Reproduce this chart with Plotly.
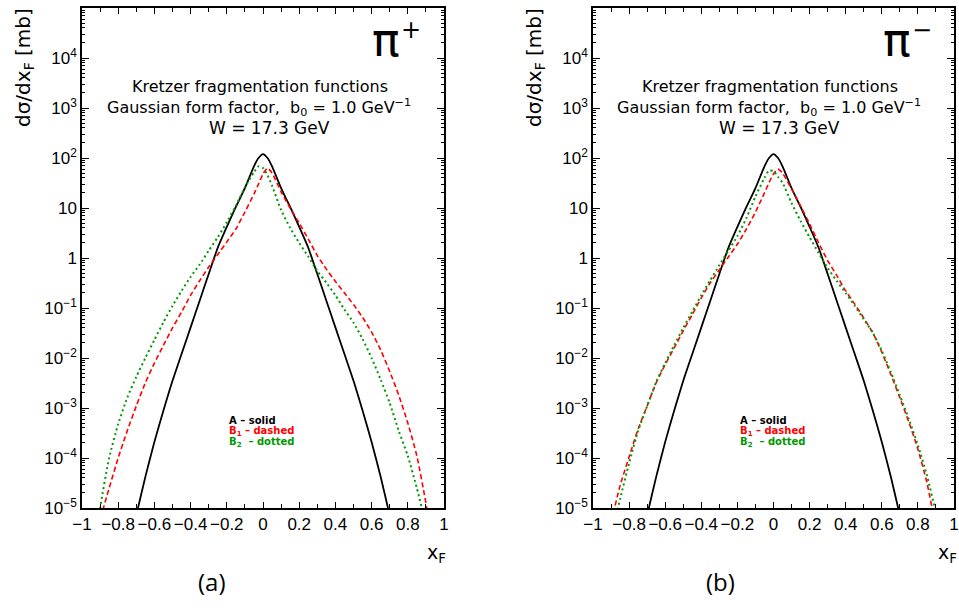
import plotly.graph_objects as go

# ---------------- data ----------------
xF = [-0.95, -0.9, -0.85, -0.8, -0.75, -0.7, -0.65, -0.6, -0.55, -0.5,
      -0.45, -0.4, -0.35, -0.3, -0.25, -0.2, -0.15, -0.1, -0.05, -0.025,
      0.0, 0.025, 0.05, 0.1, 0.15, 0.2, 0.25, 0.3, 0.35, 0.4,
      0.45, 0.5, 0.55, 0.6, 0.65, 0.7, 0.75, 0.8, 0.85, 0.9, 0.95]

# A - solid (same in both panels)
A_solid = [None, None, None, None, 1.0e-6, 7.1e-6, 4.2e-5, 2.1e-4, 8.9e-4, 3.5e-3,
           1.2e-2, 4.1e-2, 0.14, 0.48, 1.6, 4.2, 10.5, 25, 68, 100,
           120, 100, 68, 25, 10.5, 4.2, 1.6, 0.48, 0.14, 4.1e-2,
           1.2e-2, 3.5e-3, 8.9e-4, 2.1e-4, 4.2e-5, 7.1e-6, 1.0e-6, None, None, None, None]

# pi+ panel (a)
B1_pip = [5.0e-7, 5.6e-6, 2.5e-5, 1.0e-4, 3.5e-4, 1.1e-3, 3.2e-3, 7.9e-3, 1.8e-2, 4.0e-2,
          8.3e-2, 0.18, 0.35, 0.66, 1.17, 2.1, 3.8, 8.3, 19, 30,
          48, 63, 50, 21, 10, 5.0, 2.4, 1.12, 0.6, 0.34,
          0.2, 0.117, 6.5e-2, 3.3e-2, 1.45e-2, 5.4e-3, 1.8e-3, 5.0e-4, 1.1e-4, 1.26e-5, 1.0e-6]
B2_pip = [5.0e-7, 1.0e-5, 1.0e-4, 4.8e-4, 1.6e-3, 4.2e-3, 1.0e-2, 2.3e-2, 5.2e-2, 0.11,
          0.22, 0.42, 0.74, 1.4, 2.6, 5.2, 11, 26, 52, 68,
          63, 45, 28, 9.1, 4.0, 2.0, 1.07, 0.55, 0.32, 0.18,
          9.3e-2, 5.1e-2, 2.4e-2, 1.0e-2, 3.7e-3, 1.26e-3, 3.5e-4, 1.1e-4, 2.5e-5, 4.5e-6, 5.0e-7]

# pi- panel (b)
B1_pim = [6.3e-7, 5.0e-6, 2.8e-5, 1.05e-4, 3.8e-4, 1.1e-3, 3.2e-3, 7.4e-3, 1.6e-2, 3.5e-2,
          7.4e-2, 0.16, 0.32, 0.58, 1.05, 1.9, 3.8, 8.3, 20, 32,
          48, 60, 50, 24, 11, 4.8, 2.0, 0.89, 0.45, 0.22,
          0.12, 6.3e-2, 3.2e-2, 1.3e-2, 4.7e-3, 1.6e-3, 5.2e-4, 1.5e-4, 3.2e-5, 4.0e-6, 4.0e-7]
B2_pim = [2.5e-7, 2.5e-6, 1.5e-5, 7.9e-5, 3.5e-4, 1.1e-3, 3.3e-3, 7.9e-3, 1.8e-2, 4.0e-2,
          8.5e-2, 0.18, 0.36, 0.72, 1.4, 2.75, 6.3, 17, 40, 56,
          55, 42, 32, 12.6, 5.5, 2.6, 1.26, 0.63, 0.35, 0.2,
          0.11, 6.0e-2, 3.2e-2, 1.4e-2, 5.2e-3, 1.8e-3, 6.0e-4, 1.8e-4, 4.5e-5, 7.9e-6, 1.26e-6]

x_tickvals = [-1, -0.8, -0.6, -0.4, -0.2, 0, 0.2, 0.4, 0.6, 0.8, 1]
x_ticktext = ["\u22121", "\u22120.8", "\u22120.6", "\u22120.4", "\u22120.2", "0",
              "0.2", "0.4", "0.6", "0.8", "1"]
y_tickvals = [1e-5, 1e-4, 1e-3, 1e-2, 1e-1, 1, 10, 1e2, 1e3, 1e4]
y_ticktext = ["10<sup>\u22125</sup>", "10<sup>\u22124</sup>", "10<sup>\u22123</sup>",
              "10<sup>\u22122</sup>", "10<sup>\u22121</sup>", "1", "10",
              "10<sup>2</sup>", "10<sup>3</sup>", "10<sup>4</sup>"]

# ---------------- figure ----------------
W, H = 959, 612
BLACK, RED, GREEN = "#000000", "#ff0000", "#009900"

fig = go.Figure()
panels = [("x", "y", B1_pip, B2_pip), ("x2", "y2", B1_pim, B2_pim)]
for xa, ya, b1, b2 in panels:
    fig.add_trace(go.Scatter(x=xF, y=A_solid, xaxis=xa, yaxis=ya, mode="lines",
                             line=dict(color=BLACK, width=1.8, shape="spline", smoothing=0.6),
                             showlegend=False))
    fig.add_trace(go.Scatter(x=xF, y=b1, xaxis=xa, yaxis=ya, mode="lines",
                             line=dict(color=RED, width=1.6, dash="5px,3px",
                                       shape="spline", smoothing=0.6), showlegend=False))
    fig.add_trace(go.Scatter(x=xF, y=b2, xaxis=xa, yaxis=ya, mode="lines",
                             line=dict(color=GREEN, width=2, dash="2px,3px",
                                       shape="spline", smoothing=0.6), showlegend=False))

y_minor = [m * 10.0 ** k for k in range(-5, 5) for m in range(2, 10)]
tickfont = dict(family="Liberation Sans", size=17, color="black")

def xax(domain, anchor):
    return dict(domain=domain, anchor=anchor, range=[-1, 1], showgrid=False, zeroline=False,
                automargin=False,
                showline=True, linecolor="black", linewidth=1.5, mirror="allticks",
                ticks="inside", ticklen=6, tickwidth=1, tickcolor="black",
                tickvals=x_tickvals, ticktext=x_ticktext, tickfont=tickfont,
                minor=dict(ticks="inside", ticklen=4, tickwidth=1, tickcolor="black",
                           dtick=0.1, tick0=0, showgrid=False))

def yax(domain, anchor):
    return dict(domain=domain, anchor=anchor, type="log", range=[-5, 5], showgrid=False,
                zeroline=False, showline=True, linecolor="black", linewidth=1.5,
                automargin=False,
                mirror="allticks", ticks="inside", ticklen=7, tickwidth=1, tickcolor="black",
                tickvals=y_tickvals, ticktext=y_ticktext, tickfont=tickfont,
                minor=dict(ticks="inside", ticklen=3.5, tickwidth=1, tickcolor="black",
                           tickvals=y_minor, showgrid=False))

ydom = [1 - 508 / H, 1 - 8 / H]
fig.update_layout(
    width=W, height=H, margin=dict(l=0, r=0, t=0, b=0, autoexpand=False),
    paper_bgcolor="white", plot_bgcolor="white",
    xaxis=xax([82 / W, 444 / W], "y"),
    yaxis=yax(ydom, "x"),
    xaxis2=xax([593 / W, 954 / W], "y2"),
    yaxis2=yax(ydom, "x2"),
)

def ann(text, px, py, size, color="black", family="DejaVu Sans", xanchor="center",
        yanchor="middle", angle=0):
    fig.add_annotation(text=text, x=px / W, y=1 - py / H, xref="paper", yref="paper",
                       showarrow=False, xanchor=xanchor, yanchor=yanchor, textangle=angle,
                       font=dict(family=family, size=size, color=color))

for off, lab, sign, cx in [(0, "(a)", "+", 263), (511, "(b)", "\u2212", 773)]:
    # y axis title
    ann("d\u03c3/dx<sub>F</sub> [mb]", 24 + off, 68, 20, angle=-90)
    # x axis title
    ann("x<sub>F</sub>", 436 + off, 553, 19)
    # particle label
    ann("\u03c0", 386 + off, 40, 46)
    ann(sign, 411 + off, 30, 24)
    # header text
    ann("Kretzer fragmentation functions", cx - 3, 87, 16)
    ann("Gaussian form factor,  b<sub>0</sub> = 1.0 GeV<sup>\u22121</sup>", cx - 4, 107, 16)
    ann("W = 17.3 GeV", cx + 6, 128, 17)
    # line style key
    lx = 227 + off
    ann("<b>A \u2013 solid</b>", lx, 420, 10, color=BLACK, xanchor="left")
    ann("<b>B<sub>1</sub> \u2013 dashed</b>", lx, 431, 10, color=RED, xanchor="left")
    ann("<b>B<sub>2</sub>  \u2013 dotted</b>", lx, 442, 10, color=GREEN, xanchor="left")
    # panel label
    ann(lab, 212 + off * 0.996, 581, 24, family="Open Sans")

fig.write_html("out.html", config={"displayModeBar": False},
               post_script="document.body.style.margin='0px';")
